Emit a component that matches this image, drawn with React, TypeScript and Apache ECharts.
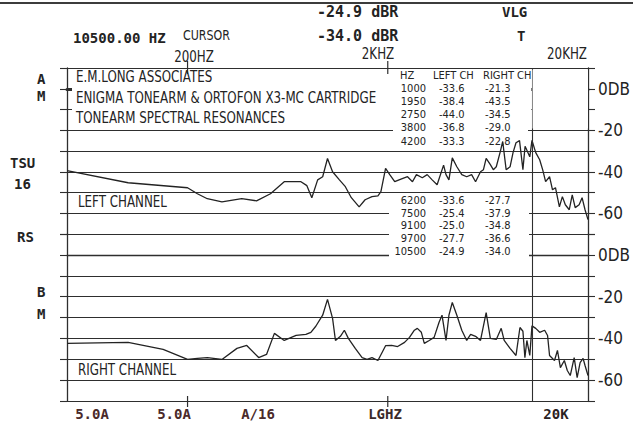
import React, { useEffect, useRef } from "react";
import * as echarts from "echarts";

// ---- data -------------------------------------------------------------
const FREQ_MIN = 50;
const FREQ_MAX = 20000;
const DB_MIN = -70;
const DB_MAX = 10;
const DB_STEP = 10;
const CURSOR_HZ = 10500;
const TICK_HZ = [200, 2000];

// [frequency Hz, level dB]
const leftChannel: [number, number][] = [
  [50, -39.5], [101, -45.3], [200, -47.7], [224, -50.6], [251, -53.0], [297, -54.5],
  [373, -53.0], [442, -54.0], [519, -50.6], [608, -44.8], [737, -44.8], [789, -46.7],
  [835, -52.5], [893, -43.9], [946, -42.4], [1000, -33.6], [1060, -40.0], [1147, -43.9],
  [1228, -47.2], [1315, -52.5], [1439, -56.9], [1541, -53.5], [1668, -52.0], [1786, -51.6],
  [1848, -49.6], [1950, -38.4], [2046, -41.4], [2166, -44.8], [2344, -43.4], [2510, -42.4],
  [2657, -44.8], [2780, -41.4], [2975, -42.9], [3148, -41.4], [3333, -43.9], [3527, -46.3],
  [3800, -36.8], [3907, -41.4], [4041, -43.9], [4200, -33.3], [4426, -37.6], [4685, -41.4],
  [4957, -42.4], [5245, -41.4], [5489, -44.8], [5810, -40.0], [6010, -39.0], [6200, -33.6],
  [6506, -36.6], [6732, -39.0], [6966, -37.6], [7289, -30.4], [7500, -25.4], [7801, -39.0],
  [8162, -37.6], [8446, -30.8], [8739, -26.0], [9100, -25.0], [9462, -39.0], [9700, -27.7],
  [10240, -32.8], [10500, -24.9], [10966, -30.8], [11474, -34.2], [11872, -39.0], [12284, -44.8],
  [12853, -42.4], [13299, -48.7], [13758, -47.7], [14394, -56.9], [14895, -52.0], [15410, -55.9],
  [16124, -58.3], [16684, -51.1], [17260, -57.3], [18060, -55.9], [18684, -52.5], [19330, -58.3],
  [20000, -63.1],
];

const rightChannel: [number, number][] = [
  [50, -42.4], [101, -41.9], [151, -45.3], [200, -50.1], [224, -49.6], [251, -49.2],
  [297, -50.1], [353, -44.8], [395, -43.4], [453, -49.2], [496, -47.7], [543, -37.6],
  [608, -41.0], [697, -38.6], [780, -38.1], [826, -37.1], [874, -34.2], [946, -28.9],
  [1000, -21.3], [1060, -30.4], [1096, -41.0], [1160, -39.0], [1214, -36.1], [1271, -40.0],
  [1376, -44.8], [1489, -49.2], [1576, -50.1], [1668, -49.2], [1786, -50.6], [1950, -43.5],
  [2092, -43.4], [2240, -43.9], [2426, -41.9], [2567, -39.5], [2716, -36.1], [2810, -35.2],
  [2942, -37.1], [3044, -42.4], [3220, -41.0], [3408, -39.5], [3608, -32.3], [3732, -28.9],
  [3907, -41.0], [4041, -28.9], [4200, -22.8], [4426, -28.9], [4685, -36.1], [4957, -41.0],
  [5186, -38.1], [5489, -39.0], [5810, -41.0], [6200, -27.7], [6506, -40.0], [6966, -40.5],
  [7372, -35.2], [7628, -41.0], [8162, -44.8], [8739, -48.2], [9144, -34.8], [9462, -36.6],
  [9680, -49.2], [9902, -41.0], [10240, -48.2], [10500, -34.0], [10966, -35.2], [11474, -37.1],
  [12144, -36.1], [12563, -38.6], [12853, -48.2], [13602, -50.6], [14074, -45.8], [14560, -54.0],
  [15236, -50.6], [15764, -55.4], [16308, -57.8], [17062, -49.2], [17654, -58.8], [18266, -51.6],
  [18900, -49.6], [19330, -53.0], [20000, -57.8],
];

const tableHz = [1000, 1950, 2750, 3800, 4200, 6200, 7500, 9100, 9700, 10500];
const tableLeft = ["-33.6", "-38.4", "-44.0", "-36.8", "-33.3", "-33.6", "-25.4", "-25.0", "-27.7", "-24.9"];
const tableRight = ["-21.3", "-43.5", "-34.5", "-29.0", "-22.8", "-27.7", "-37.9", "-34.8", "-36.6", "-34.0"];

const dbTickLabels: Record<string, string> = { "0": "0DB", "-20": "-20", "-40": "-40", "-60": "-60" };

const titleLines = [
  "E.M.LONG ASSOCIATES",
  "ENIGMA TONEARM & ORTOFON X3-MC CARTRIDGE",
  "TONEARM SPECTRAL RESONANCES",
];
const softKeys = ["5.0A", "5.0A", "A/16", "LGHZ", "20K"];
const sideLabels = ["A", "M", "TSU", "16", "RS", "B", "M"];

// ---- component --------------------------------------------------------
const PLOT_FONT = "'Liberation Sans Narrow', 'DejaVu Sans Condensed', 'Liberation Sans', sans-serif";
const DOT_FONT = "'DejaVu Sans Mono', 'Liberation Mono', monospace";

export default function App() {
  const ref = useRef<HTMLDivElement>(null);

  useEffect(() => {
    document.body.style.margin = "0";
    const chart = echarts.init(ref.current!, null, { renderer: "svg" });
    const ink = "#232323";
    const rule = "#2e2e2e";

    const xAxisBase = (gridIndex: number, position: string, width: number) => ({
      type: "log",
      logBase: 10,
      gridIndex,
      position,
      min: FREQ_MIN,
      max: FREQ_MAX,
      axisLine: { show: true, lineStyle: { color: rule, width } },
      axisTick: { show: false },
      axisLabel: { show: false },
      splitLine: { show: false },
    });

    const yAxisBase = (gridIndex: number, position: string) => ({
      type: "value",
      gridIndex,
      position,
      min: DB_MIN,
      max: DB_MAX,
      interval: DB_STEP,
      axisLine: { show: true, lineStyle: { color: rule, width: 1.3 } },
      axisTick: { show: true, length: 7, lineStyle: { color: rule, width: 1.1 } },
      splitLine: position === "left" ? { show: true, lineStyle: { color: rule, width: 1.1, type: "solid" } } : { show: false },
      axisLabel:
        position === "right"
          ? {
              show: true,
              margin: 10,
              color: ink,
              fontFamily: PLOT_FONT,
              fontSize: 17,
              formatter: (v: number) => dbTickLabels[String(v)] ?? "",
            }
          : { show: false },
    });

    const cursor = {
      silent: true,
      symbol: ["none", "none"],
      label: { show: false },
      lineStyle: { color: rule, width: 1.1, type: "solid" },
      data: [{ xAxis: CURSOR_HZ }],
    };

    chart.setOption({
      animation: false,
      backgroundColor: "#ffffff",
      grid: [
        { left: 67, right: 36, top: 68, height: 166 },
        { left: 67, right: 36, top: 234, height: 167 },
      ],
      xAxis: [xAxisBase(0, "top", 1.3), xAxisBase(0, "bottom", 3), xAxisBase(1, "bottom", 1.3)],
      yAxis: [yAxisBase(0, "left"), yAxisBase(0, "right"), yAxisBase(1, "left"), yAxisBase(1, "right")],
      series: [
        {
          type: "line",
          name: "LEFT CHANNEL",
          xAxisIndex: 0,
          yAxisIndex: 0,
          data: leftChannel,
          symbol: "none",
          lineStyle: { color: ink, width: 1.3 },
          markLine: cursor,
        },
        {
          type: "line",
          name: "RIGHT CHANNEL",
          xAxisIndex: 2,
          yAxisIndex: 2,
          data: rightChannel,
          symbol: "none",
          lineStyle: { color: ink, width: 1.3 },
          markLine: cursor,
        },
      ],
    });

    const txt = (text: string, x: number, y: number, font: string, align = "left", fill = ink, sx = 1) => ({
      type: "text",
      x,
      y,
      z: 60,
      scaleX: sx,
      style: { text, font, fill, textAlign: align, textVerticalAlign: "middle" },
    });
    const cover = (x1: number, y1: number, x2: number, y2: number) => ({
      type: "rect",
      z: 50,
      shape: { x: x1, y: y1, width: x2 - x1, height: y2 - y1 },
      style: { fill: "#ffffff" },
    });
    const seg = (x1: number, y1: number, x2: number, y2: number, w = 1.2, c = rule) => ({
      type: "line",
      z: 55,
      shape: { x1, y1, x2, y2 },
      style: { stroke: c, lineWidth: w },
    });

    const tickXs = TICK_HZ.map((f) => chart.convertToPixel({ xAxisIndex: 0 }, f) as number);
    const cx = chart.convertToPixel({ xAxisIndex: 0 }, CURSOR_HZ) as number;

    const dot14 = `bold 14px ${DOT_FONT}`;
    const dot15 = `bold 15px ${DOT_FONT}`;
    const plot15 = `15px ${PLOT_FONT}`;
    const plot14 = `14px ${PLOT_FONT}`;
    const tab = `11px ${PLOT_FONT}`;
    const SX = 0.88;

    const rowY = [75.5, 88.5, 101.5, 114.5, 127.5, 141, 200, 213, 225.5, 238.5, 251];
    const sidePos: [number, number][] = [[37, 79], [37, 96], [10, 163], [14, 184], [17, 237], [37, 292], [37, 314]];
    const softX = [92, 174, 258, 385, 556];
    const softColor = ["#4a2a2a", "#4a2a2a", "#4a2a2a", "#3a2a2a", "#2a2222"];

    const elements: any[] = [
      seg(0, 3, 633, 3, 2.2, "#3c3c3c"),
      cover(72, 69.5, cx - 0.6, 128.5),
      cover(393, 125, 528, 136),
      cover(cx + 0.6, 69.5, 588, 128.5),
      cover(389, 195, 529, 259),
      ...tickXs.map((x) => seg(x, 61, x, 74)),
      ...tickXs.map((x) => seg(x, 396, x, 407)),
      txt("10500.00 HZ", 73, 38, dot14),
      txt("CURSOR", 183, 35, plot14, "left", ink, SX),
      txt("-24.9 dBR", 317, 12, dot15),
      txt("-34.0 dBR", 317, 36, dot15),
      txt("VLG", 502, 12, dot14),
      txt("T", 517, 36, dot14),
      txt("200HZ", 194, 57, plot15, "center", ink, SX),
      txt("2KHZ", 378, 54, plot15, "center", ink, SX),
      txt("20KHZ", 567, 54, plot15, "center", ink, SX),
      ...titleLines.map((t, i) => txt(t, 76, 77 + i * 20.5, plot15, "left", ink, SX)),
      txt("LEFT CHANNEL", 78, 202, plot15, "left", ink, SX),
      txt("RIGHT CHANNEL", 78, 370, plot15, "left", ink, SX),
      txt("HZ", 400, rowY[0], tab),
      txt("LEFT CH", 433, rowY[0], tab),
      txt("RIGHT CH", 483, rowY[0], tab),
      ...tableHz.map((hz, i) => txt(String(hz), 426, rowY[i + 1], tab, "right")),
      ...tableLeft.map((v, i) => txt(v, 439, rowY[i + 1], tab)),
      ...tableRight.map((v, i) => txt(v, 485, rowY[i + 1], tab)),
      ...sideLabels.map((t, i) => txt(t, sidePos[i][0], sidePos[i][1], dot14)),
      ...softKeys.map((t, i) => txt(t, softX[i], 414, dot14, "center", softColor[i])),
    ];

    chart.setOption({ graphic: elements });

    return () => chart.dispose();
  }, []);

  return (
    <div
      ref={ref}
      style={{ position: "fixed", left: 0, top: 0, width: 633, height: 424, background: "#fff" }}
    />
  );
}
